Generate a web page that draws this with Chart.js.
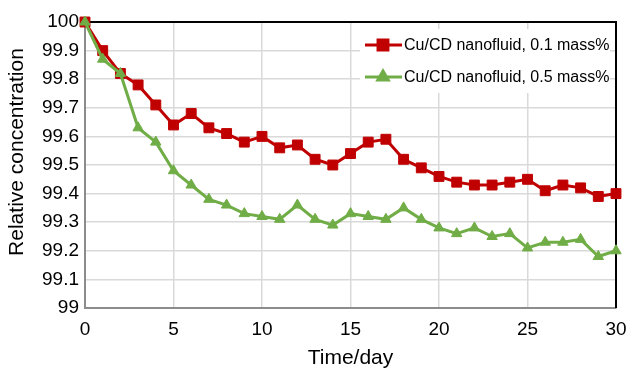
<!DOCTYPE html>
<html>
<head>
<meta charset="utf-8">
<script src="https://cdn.jsdelivr.net/npm/chart.js@4/dist/chart.umd.min.js"></script>
<style>
  html, body { margin: 0; padding: 0; background: #fff; }
  #wrap { width: 629px; height: 369px; position: relative; }
</style>
</head>
<body>
<div id="wrap"><canvas id="chart"></canvas></div>
<script>
// days 0..30
const days = [0, 1, 2, 3, 4, 5, 6, 7, 8, 9, 10, 11, 12, 13, 14, 15, 16, 17, 18, 19, 20, 21, 22, 23, 24, 25, 26, 27, 28, 29, 30];

// 0.1 mass%
const conc01 = [100, 99.90, 99.82, 99.78, 99.71, 99.64, 99.68, 99.63, 99.61, 99.58, 99.60,
  99.56, 99.57, 99.52, 99.50, 99.54, 99.58, 99.59, 99.52, 99.49, 99.46,
  99.44, 99.43, 99.43, 99.44, 99.45, 99.41, 99.43, 99.42, 99.39, 99.40];

// 0.5 mass%
const conc05 = [100, 99.87, 99.82, 99.63, 99.58, 99.48, 99.43, 99.38, 99.36, 99.33, 99.32,
  99.31, 99.36, 99.31, 99.29, 99.33, 99.32, 99.31, 99.35, 99.31, 99.28,
  99.26, 99.28, 99.25, 99.26, 99.21, 99.23, 99.23, 99.24, 99.18, 99.20];

const seriesNames = ['Cu/CD nanofluid, 0.1 mass%', 'Cu/CD nanofluid, 0.5 mass%'];
const yTitle = 'Relative concentration';

const RED = '#C00000';
const GREEN = '#70AD47';
const FONT = '"Liberation Sans", Arial, sans-serif';

const toPoints = vals => days.map((d, i) => ({ x: d, y: vals[i] }));

// top and right frame lines
const framePlugin = {
  id: 'frame',
  beforeDatasetsDraw(chart) {
    const { ctx, chartArea: a } = chart;
    ctx.save();
    ctx.strokeStyle = '#000';
    ctx.lineWidth = 2;
    ctx.beginPath();
    ctx.moveTo(a.left, a.top);
    ctx.lineTo(a.right, a.top);
    ctx.lineTo(a.right, a.bottom);
    ctx.stroke();
    ctx.restore();
  }
};

// y title sits a bit above the plot centre in the original
const yTitlePlugin = {
  id: 'yTitle',
  afterDraw(chart) {
    const { ctx } = chart;
    ctx.save();
    ctx.translate(17, 152);
    ctx.rotate(-Math.PI / 2);
    ctx.fillStyle = '#000';
    ctx.font = '21px ' + FONT;
    ctx.textAlign = 'center';
    ctx.textBaseline = 'middle';
    ctx.fillText(yTitle, 0, 0);
    ctx.restore();
  }
};

// legend box inside the plot
const legendPlugin = {
  id: 'innerLegend',
  afterDraw(chart) {
    const { ctx } = chart;
    ctx.save();
    ctx.fillStyle = '#fff';
    ctx.fillRect(360, 29, 250, 64);
    const rows = [
      { y: 45, color: RED, style: 'rect', r: 7 },
      { y: 77, color: GREEN, style: 'triangle', r: 6 }
    ];
    rows.forEach((row, i) => {
      ctx.strokeStyle = row.color;
      ctx.lineWidth = 3;
      ctx.beginPath();
      ctx.moveTo(365, row.y);
      ctx.lineTo(402, row.y);
      ctx.stroke();
      Chart.helpers.drawPoint(ctx, {
        pointStyle: row.style, radius: row.r, borderWidth: 1, rotation: 0
      }, 383, row.y);
      ctx.fillStyle = row.color;
      ctx.strokeStyle = row.color;
      ctx.fill();
      ctx.fillStyle = '#000';
      ctx.font = '16px ' + FONT;
      ctx.textBaseline = 'middle';
      ctx.textAlign = 'left';
      ctx.fillText(seriesNames[i], 404, row.y + 1);
    });
    ctx.restore();
  }
};

new Chart(document.getElementById('chart'), {
  type: 'line',
  data: {
    datasets: [
      {
        label: seriesNames[0],
        data: toPoints(conc01),
        borderColor: RED,
        backgroundColor: RED,
        borderWidth: 3,
        pointStyle: 'rect',
        pointRadius: 7,
        pointBorderWidth: 1,
        tension: 0,
        clip: false,
        order: 1
      },
      {
        label: seriesNames[1],
        data: toPoints(conc05),
        borderColor: GREEN,
        backgroundColor: GREEN,
        borderWidth: 3,
        pointStyle: 'triangle',
        pointRadius: 6,
        pointBorderWidth: 1,
        tension: 0,
        clip: false,
        order: 0
      }
    ]
  },
  options: {
    responsive: true,
    maintainAspectRatio: false,
    animation: false,
    layout: { padding: { left: 0, right: 13, top: 22, bottom: 0 } },
    plugins: {
      legend: { display: false },
      tooltip: { enabled: false }
    },
    scales: {
      x: {
        type: 'linear',
        min: 0,
        max: 30,
        afterFit(scale) {
          scale.height = 61;
          scale.paddingRight = 0;
          scale.paddingLeft = 0;
        },
        ticks: {
          stepSize: 5,
          color: '#000',
          padding: 10,
          font: { family: FONT, size: 19 }
        },
        grid: { color: '#d9d9d9', lineWidth: 1.5, drawTicks: false },
        border: { color: '#8c8c8c', width: 2 },
        title: {
          display: true,
          text: 'Time/day',
          color: '#000',
          padding: { top: 0, bottom: -2 },
          font: { family: FONT, size: 21 }
        }
      },
      y: {
        min: 99,
        max: 100,
        afterFit(scale) { scale.width = 85; },
        ticks: {
          stepSize: 0.1,
          color: '#000',
          padding: 6,
          font: { family: FONT, size: 19 },
          callback: v => String(+v.toFixed(1))
        },
        grid: { color: '#d9d9d9', lineWidth: 1.5, drawTicks: false },
        border: { color: '#8c8c8c', width: 2 },
        title: { display: false }
      }
    }
  },
  plugins: [framePlugin, legendPlugin, yTitlePlugin]
});
</script>
</body>
</html>
